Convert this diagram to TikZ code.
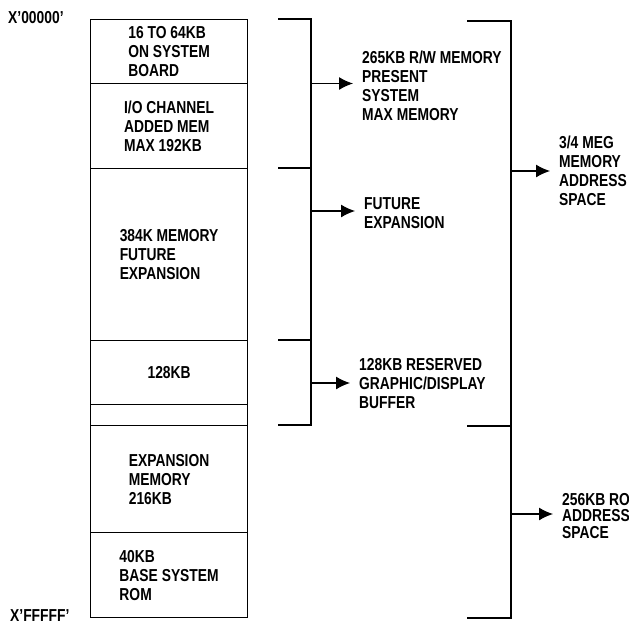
\documentclass[tikz,border=0pt]{standalone}
\usepackage{fontspec}
\setmainfont{Liberation Sans}[FakeStretch=0.8]
\usetikzlibrary{arrows.meta}
\begin{document}
\begin{tikzpicture}[x=1pt,y=-1pt,
  txt/.style={font=\bfseries\fontsize{17.3}{19}\selectfont, inner sep=0pt, align=left},
  blk/.style={txt, draw, line width=1.2pt, anchor=north west, minimum width=157pt},
  lbl/.style={txt, anchor=west},
  brk/.style={line width=1.2pt},
  arr/.style={line width=1.2pt, -{Latex[length=14pt,width=13pt]}, shorten >=9pt}
]
\useasboundingbox (0,0) rectangle (629,624);
% memory map blocks
\node[blk, minimum height=64pt]  (m1) at (90,19)  {16 TO 64KB\\ON SYSTEM\\BOARD};
\node[blk, minimum height=85pt]  (m2) at (90,83)  {I/O CHANNEL\\ADDED MEM\\MAX 192KB};
\node[blk, minimum height=172pt] (m3) at (90,168) {384K MEMORY\\FUTURE\\EXPANSION};
\node[blk, minimum height=64pt]  (m4) at (90,340) {128KB};
\node[blk, minimum height=21pt]  (m5) at (90,404) {};
\node[blk, minimum height=107pt] (m6) at (90,425) {EXPANSION\\MEMORY\\216KB};
\node[blk, minimum height=85pt]  (m7) at (90,532) {40KB\\BASE SYSTEM\\ROM};
% address labels
\node[lbl] (a0) at (8,18)  {X’00000’};
\node[lbl] (af) at (10,615.5) {X’FFFFF’};
% first-level brackets
\coordinate (t1) at (278,19);
\coordinate (t2) at (278,168);
\coordinate (t3) at (278,340);
\coordinate (t4) at (278,425);
\coordinate (v1) at (311,19);
\coordinate (v4) at (311,425);
\draw[brk] (t1) -- (v1) -- (v4) -- (t4);
\draw[brk] (t2) -- (t2 -| v1);
\draw[brk] (t3) -- (t3 -| v1);
\coordinate (c1) at (311,83.5);
\coordinate (c2) at (311,211);
\coordinate (c3) at (311,383);
\node[lbl] (l1) at (362,85.75) {265KB R/W MEMORY\\PRESENT\\SYSTEM\\MAX MEMORY};
\node[lbl] (l2) at (364,213) {FUTURE\\EXPANSION};
\node[lbl] (l3) at (359,384) {128KB RESERVED\\GRAPHIC/DISPLAY\\BUFFER};
\draw[arr] (c1) -- (c1 -| l1.west);
\draw[arr] (c2) -- (c2 -| l2.west);
\draw[arr] (c3) -- (c3 -| l3.west);
% second-level brackets
\coordinate (s1) at (467,21);
\coordinate (s2) at (467,426);
\coordinate (s3) at (467,618);
\coordinate (w1) at (511,21);
\coordinate (w3) at (511,618);
\draw[brk] (s1) -- (w1) -- (w3) -- (s3);
\draw[brk] (s2) -- (s2 -| w1);
\coordinate (d1) at (511,171);
\coordinate (d2) at (511,514);
\node[lbl] (r1) at (559,171) {3/4 MEG\\MEMORY\\ADDRESS\\SPACE};
\node[lbl, font=\bfseries\fontsize{17.3}{16.8}\selectfont] (r2) at (562,516) {256KB RO\\ADDRESS\\SPACE};
\draw[arr] (d1) -- (d1 -| r1.west);
\draw[arr] (d2) -- (d2 -| r2.west);
\end{tikzpicture}
\end{document}
